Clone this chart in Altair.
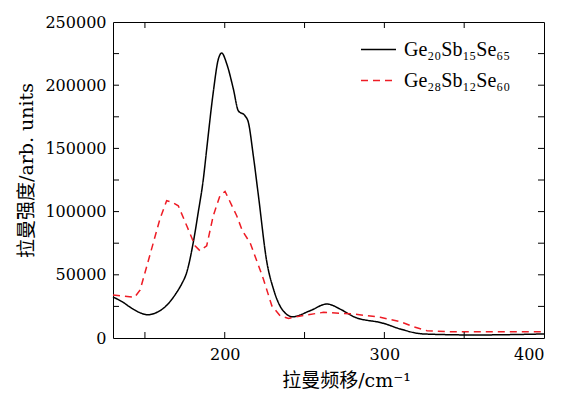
import altair as alt
import pandas as pd

# Black curve: Ge20Sb15Se65
x_black = [130, 136, 140.6, 146, 152, 157, 162.5, 169.9, 173, 176.2, 180.3, 183.4, 186.6,
           188.7, 192.8, 196, 198.1, 201.3, 205.4, 208.5, 212.7, 214.8, 217.9, 221.1,
           226.4, 230.5, 235.8, 242.5, 253.5, 264, 272.3, 280.7, 299.5, 310, 324.6, 356, 400]
y_black = [32400, 28500, 24500, 20500, 18400, 20000, 24500, 36100, 42700, 52000, 75700,
           99400, 125800, 149500, 194300, 220700, 225400, 216700, 197000, 179800, 175800,
           170600, 144200, 112600, 59900, 38800, 22900, 16800, 21600, 26900, 22900, 16900,
           11600, 7100, 3200, 2400, 3200]

# Red dashed curve: Ge28Sb12Se60
x_red = [130, 143.5, 147, 153, 159.4, 163.6, 167, 170.9, 176.2, 181.4, 184.5, 188.7, 192.8,
         197, 200.2, 207.5, 211, 216, 224.2, 229.5, 234.7, 240, 250, 261.9, 280.7, 297.4,
         310, 318, 326.7, 340, 400]
y_red = [34000, 32200, 38000, 65100, 94100, 108600, 107500, 104600, 88800, 73000, 69000,
         73000, 96700, 112600, 116000, 96700, 85000, 75000, 46700, 25500, 17600, 15500,
         18000, 20300, 19000, 16400, 12900, 9000, 5800, 5000, 5000]

series_names = ["Ge₂₀Sb₁₅Se₆₅", "Ge₂₈Sb₁₂Se₆₀"]
series_colors = ["#000000", "#ee1c25"]
series_dashes = [[1, 0], [7, 5]]

x_tick_vals = [150, 200, 250, 300, 350]
y_tick_vals = [25000, 50000, 75000, 100000, 125000, 150000, 175000, 200000, 225000]
x_label_vals = [200, 300, 400]
y_label_vals = [0, 50000, 100000, 150000, 200000, 250000]

W, H = 431, 316
TICK = 6
SERIF = "DejaVu Serif"
LEG_FONT = "Liberation Serif"
TITLE_FONT = "DejaVu Serif, Noto Sans CJK SC"

df_black = pd.DataFrame({"x": x_black, "y": y_black, "s": series_names[0]})
df_red = pd.DataFrame({"x": x_red, "y": y_red, "s": series_names[1]})

xscale = alt.Scale(domain=[130, 400], nice=False, zero=False)
yscale = alt.Scale(domain=[0, 250000], nice=False)

color = alt.Color("s:N", scale=alt.Scale(domain=series_names, range=series_colors),
                  legend=alt.Legend(title=None, orient="none", legendX=247, legendY=9,
                                    symbolType="stroke", symbolSize=1225,
                                    symbolStrokeWidth=1.5, labelFont=LEG_FONT,
                                    labelFontSize=20, labelColor="black",
                                    labelOffset=7, rowPadding=2, padding=0))
dash = alt.StrokeDash("s:N", scale=alt.Scale(domain=series_names, range=series_dashes),
                      legend=None)

x_enc = alt.X("x:Q", scale=xscale,
              axis=alt.Axis(title="拉曼频移/cm⁻¹", values=x_label_vals, ticks=False,
                            tickSize=0, grid=False, domain=False, labelFont=SERIF,
                            labelFontSize=16, labelColor="black", labelPadding=8,
                            titleFont=TITLE_FONT, titleFontSize=19, titleFontWeight="normal",
                            titleColor="black", titlePadding=9, titleX=233))
y_enc = alt.Y("y:Q", scale=yscale,
              axis=alt.Axis(title="拉曼强度/arb. units", values=y_label_vals, ticks=False,
                            tickSize=0, grid=False, domain=False, format="d",
                            labelFont=SERIF, labelFontSize=16, labelColor="black",
                            labelPadding=7, titleFont=TITLE_FONT, titleFontSize=19,
                            titleFontWeight="normal", titleColor="black", titlePadding=8,
                            titleY=148))

black_line = alt.Chart(df_black).mark_line(strokeWidth=1.5, interpolate="monotone").encode(
    x=x_enc, y=y_enc, color=color, strokeDash=dash)
red_line = alt.Chart(df_red).mark_line(strokeWidth=1.5).encode(
    x=alt.X("x:Q", scale=xscale), y=alt.Y("y:Q", scale=yscale), color=color, strokeDash=dash)

dfx = pd.DataFrame({"t": x_tick_vals})
dfy = pd.DataFrame({"t": y_tick_vals})
tick_b = alt.Chart(dfx).mark_rule(color="black", strokeWidth=1).encode(
    x=alt.X("t:Q", scale=xscale), y=alt.value(H), y2=alt.value(H - TICK))
tick_t = alt.Chart(dfx).mark_rule(color="black", strokeWidth=1).encode(
    x=alt.X("t:Q", scale=xscale), y=alt.value(0), y2=alt.value(TICK))
tick_l = alt.Chart(dfy).mark_rule(color="black", strokeWidth=1).encode(
    y=alt.Y("t:Q", scale=yscale), x=alt.value(0), x2=alt.value(TICK))
tick_r = alt.Chart(dfy).mark_rule(color="black", strokeWidth=1).encode(
    y=alt.Y("t:Q", scale=yscale), x=alt.value(W), x2=alt.value(W - TICK))

chart = alt.layer(black_line, red_line, tick_b, tick_t, tick_l, tick_r).properties(
    width=W, height=H,
    autosize=alt.AutoSizeParams(type="none"),
    padding={"left": 113, "top": 22, "right": 17, "bottom": 55},
    background="white",
).configure_view(stroke="black", strokeWidth=1).configure_legend(
    labelFont=LEG_FONT, labelFontSize=20, labelColor="black")

chart.save("out.html", embed_options={"renderer": "svg", "actions": False})
